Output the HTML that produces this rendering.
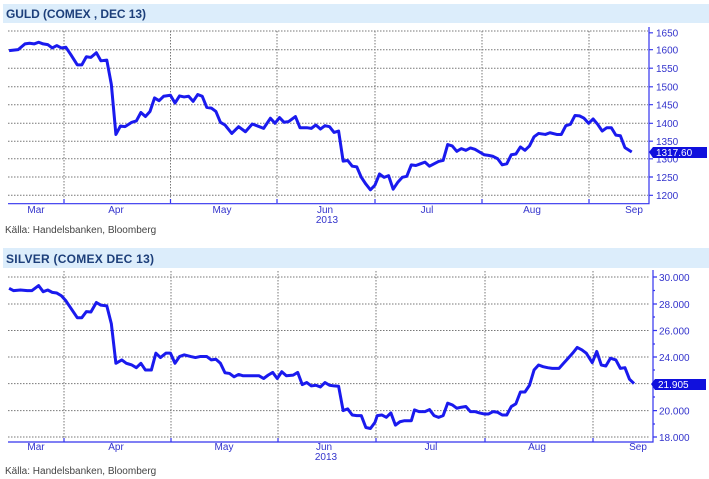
<!DOCTYPE html><html><head><style>body{margin:0;background:#fff}svg{display:block;font-family:"Liberation Sans",sans-serif}</style></head><body>
<svg width="709" height="479" viewBox="0 0 709 479" xmlns="http://www.w3.org/2000/svg">
<rect x="3" y="4" width="706" height="19" fill="#dcedfb"/>
<text x="6" y="18" font-size="12" font-weight="bold" fill="#1d3f7a" textLength="140">GULD (COMEX , DEC 13)</text>
<rect x="3" y="248" width="706" height="20" fill="#dcedfb"/>
<text x="6" y="263" font-size="12" font-weight="bold" fill="#1d3f7a" textLength="148">SILVER (COMEX DEC 13)</text>
<g stroke="#777" stroke-width="1" stroke-dasharray="1.5,1.5" fill="none">
<path d="M8 31H648M8 49.7H648M8 68.2H648M8 86.8H648M8 104.7H648M8 123.3H648M8 141.2H648M8 158.8H648M8 177H648M8 195.3H648"/>
<path d="M64 31V203M170.5 31V203M277 31V203M375 31V203M482 31V203M589 31V203"/>
<path d="M8 277H650M8 304H650M8 330.5H650M8 357H650M8 383.6H650M8 410.6H650M8 437H650"/>
<path d="M64 271V442M171 271V442M278 271V442M376 271V442M485 271V442M593 271V442"/>
</g>
<g stroke="#3333ee" stroke-width="1.2" fill="none">
<path d="M8 203.7H649V27M650 442H653V270M8 442H650"/>
<path d="M64 203v-4M170.5 203v-4M277 203v-4M375 203v-4M482 203v-4M589 203v-4M64 442v-4M171 442v-4M278 442v-4M376 442v-4M485 442v-4M593 442v-4"/>
<path d="M649 32.8h4M649 49.7h4M649 68.2h4M649 86.8h4M649 104.7h4M649 123.3h4M649 141.2h4M649 158.8h4M649 177h4M649 195.3h4"/>
<path d="M653 277h4M653 290.5h2M653 304h4M653 317h2M653 330.5h4M653 344h2M653 357h4M653 370h2M653 383.6h4M653 397h2M653 410.6h4M653 424h2M653 437h4"/>
</g>
<g font-size="10" fill="#3333cc">
<text x="656" y="36.5">1650</text><text x="656" y="53.5">1600</text><text x="656" y="72">1550</text><text x="656" y="90.5">1500</text><text x="656" y="108.5">1450</text><text x="656" y="127">1400</text><text x="656" y="145">1350</text><text x="656" y="162.5">1300</text><text x="656" y="181">1250</text><text x="656" y="199">1200</text>
<text x="659" y="281">30.000</text><text x="659" y="308">28.000</text><text x="659" y="334.5">26.000</text><text x="659" y="361">24.000</text><text x="659" y="414.5">20.000</text><text x="659" y="441">18.000</text>
<g text-anchor="middle"><text x="36" y="213">Mar</text><text x="116" y="213">Apr</text><text x="222" y="213">May</text><text x="325" y="213">Jun</text><text x="327" y="223">2013</text><text x="427" y="213">Jul</text><text x="532" y="213">Aug</text><text x="634" y="213">Sep</text>
<text x="36" y="450">Mar</text><text x="116" y="450">Apr</text><text x="224" y="450">May</text><text x="324" y="450">Jun</text><text x="326" y="460">2013</text><text x="431" y="450">Jul</text><text x="537" y="450">Aug</text><text x="638" y="450">Sep</text></g>
</g>
<path d="M649 152l4-5h54v11h-54z" fill="#1010dd"/><text x="656" y="156" font-size="10" fill="#fff">1317.60</text>
<path d="M651 384l4-5h51v11h-51z" fill="#1010dd"/><text x="658" y="388" font-size="10" fill="#fff">21.905</text>
<text x="5" y="233" font-size="10" fill="#444">Källa: Handelsbanken, Bloomberg</text>
<text x="5" y="474" font-size="10" fill="#444">Källa: Handelsbanken, Bloomberg</text>
<g transform="scale(0.4545,0.3378)" fill="none" stroke="#1a1aee" stroke-width="3" stroke-linejoin="round" vector-effect="non-scaling-stroke">
<polyline vector-effect="non-scaling-stroke" points="20,150 40,147 55,130 65,128 75,130 85,125 95,130 105,132 115,142 125,135 135,142 145,140 155,160 170,192 180,192 190,168 200,170 212,156 222,180 235,178 245,250 255,398 265,373 275,375 290,362 300,358 310,333 320,345 330,330 340,290 350,298 360,285 375,282 385,305 395,284 405,287 415,285 425,300 435,280 445,285 455,318 465,320 475,330 485,362 495,370 510,395 525,375 540,390 555,367 565,372 580,380 595,350 605,365 615,348 625,362 635,360 650,345 660,378 675,378 685,380 695,370 705,382 715,372 725,375 735,392 745,388 755,477 765,475 775,492 785,494 795,525 805,545 815,562 825,548 835,515 845,525 855,520 865,560 875,540 885,525 895,522 905,488 915,490 925,485 935,480 945,492 955,485 965,478 975,475 985,428 995,432 1005,448 1015,440 1025,445 1035,438 1045,442 1055,450 1065,458 1075,460 1085,463 1095,470 1105,488 1115,485 1125,458 1135,456 1145,435 1155,445 1165,432 1175,405 1185,395 1200,398 1210,393 1225,398 1235,398 1245,372 1255,368 1265,342 1275,343 1285,350 1295,365 1305,352 1315,368 1325,388 1335,378 1345,378 1355,400 1365,402 1375,437 1390,450"/>
</g>
<g transform="translate(0,240) scale(0.4545,0.3378)" fill="none" stroke="#1a1aee" stroke-width="3" stroke-linejoin="round">
<polyline vector-effect="non-scaling-stroke" points="20,143 30,150 45,148 60,150 70,150 85,135 95,153 105,148 115,155 125,157 135,165 145,180 155,200 170,230 180,230 190,212 200,213 212,185 222,193 235,195 245,248 255,365 268,355 278,365 290,370 300,378 310,365 320,385 333,385 343,335 353,348 365,335 375,335 385,365 395,345 405,340 420,345 430,348 440,345 455,345 465,355 475,353 485,365 495,393 505,395 515,405 525,398 535,402 545,402 560,402 570,402 580,410 590,400 600,392 610,410 620,390 630,402 645,400 655,392 665,428 675,422 685,432 695,430 705,435 715,422 725,430 735,432 745,433 755,505 765,500 775,518 785,520 795,520 805,555 815,558 825,540 830,520 840,518 850,525 860,512 870,548 880,538 890,535 905,535 912,503 922,508 935,508 945,502 955,520 965,525 975,520 985,483 995,488 1005,498 1015,495 1025,493 1035,508 1045,508 1055,512 1065,515 1075,515 1085,508 1095,510 1105,518 1115,518 1125,493 1135,485 1145,450 1155,450 1165,430 1175,385 1185,370 1195,375 1205,378 1215,380 1230,380 1240,365 1250,350 1260,335 1270,318 1280,325 1290,335 1303,363 1313,330 1323,370 1333,373 1343,350 1355,355 1365,380 1375,378 1385,412 1395,425"/>
</g>
</svg>
</body></html>
